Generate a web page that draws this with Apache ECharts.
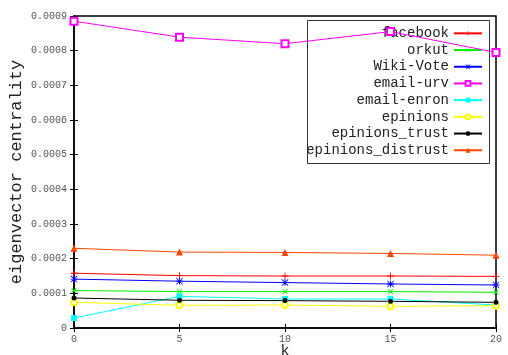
<!DOCTYPE html>
<html>
<head>
<meta charset="utf-8">
<script src="https://cdn.jsdelivr.net/npm/echarts@6/dist/echarts.min.js"></script>
<style>
  html, body { margin: 0; padding: 0; background: #fff; }
  #chart { width: 508px; height: 355px; }
</style>
</head>
<body>
<div id="chart"></div>
<script>
// k values along the x axis
const kValues = [0, 5, 10, 15, 20];

// eigenvector centrality per data set
const facebook        = [0.000158, 0.000151, 0.000150, 0.000150, 0.000149];
const orkut           = [0.000108, 0.000105, 0.000105, 0.000105, 0.000103];
const wikiVote        = [0.000141, 0.000135, 0.000131, 0.000127, 0.000124];
const emailUrv        = [0.000885, 0.000839, 0.000820, 0.000855, 0.000795];
const emailEnron      = [0.0000288, 0.0000914, 0.0000837, 0.0000837, 0.0000663];
const epinions        = [0.0000740, 0.0000655, 0.0000663, 0.0000626, 0.0000643];
const epinionsTrust   = [0.0000865, 0.0000800, 0.0000790, 0.0000770, 0.0000740];
const epinionsDistrust= [0.000230, 0.000219, 0.000218, 0.000215, 0.000210];

const seriesNames = ['facebook', 'orkut', 'Wiki-Vote', 'email-urv', 'email-enron',
                     'epinions', 'epinions_trust', 'epinions_distrust'];
const seriesData = [facebook, orkut, wikiVote, emailUrv, emailEnron,
                    epinions, epinionsTrust, epinionsDistrust];

const PLUS = 'path://M4.4,0H5.6V4.4H10V5.6H5.6V10H4.4V5.6H0V4.4H4.4Z';
const STAR = 'path://M4.4,0H5.6V4.4H10V5.6H5.6V10H4.4V5.6H0V4.4H4.4Z' +
             'M0.8,0L5,4.2L9.2,0L10,0.8L5.8,5L10,9.2L9.2,10L5,5.8L0.8,10L0,9.2L4.2,5L0,0.8Z';

const styles = [
  { color: '#ff0000', symbol: PLUS, size: 7, rotate: 0 },
  { color: '#00ee00', symbol: PLUS, size: 7, rotate: 45 },
  { color: '#0000ff', symbol: STAR, size: 7, rotate: 0 },
  { color: '#ff00ff', symbol: 'emptyRect', size: 7, rotate: 0 },
  { color: '#00ffff', symbol: 'rect', size: 6, rotate: 0 },
  { color: '#ffff00', symbol: 'emptyCircle', size: 6, rotate: 0 },
  { color: '#000000', symbol: 'circle', size: 5, rotate: 0 },
  { color: '#ff4500', symbol: 'triangle', size: 7, rotate: 0 }
];

const FONT = '"Liberation Mono", "DejaVu Sans Mono", monospace';

const chart = echarts.init(document.getElementById('chart'), null, { renderer: 'canvas' });

const series = seriesNames.map((name, i) => ({
  name: name,
  type: 'line',
  data: kValues.map((k, j) => [k, seriesData[i][j]]),
  symbol: styles[i].symbol,
  symbolSize: styles[i].size,
  symbolRotate: styles[i].rotate,
  showAllSymbol: true,
  itemStyle: { color: styles[i].color, borderWidth: 1 },
  lineStyle: { color: styles[i].color, width: 1 },
  emphasis: { disabled: true },
  animation: false,
  z: 3
}));

const tickCommon = { inside: true, length: 4, lineStyle: { color: '#000', width: 1 } };

chart.setOption({
  animation: false,
  backgroundColor: '#fff',
  grid: {
    left: 74, right: 12, top: 16, bottom: 27,
    containLabel: false,
    outerBoundsMode: 'none',
    show: true, borderColor: '#000', borderWidth: 1.5, backgroundColor: 'transparent'
  },
  xAxis: [
    {
      type: 'value', min: 0, max: 20, interval: 5,
      name: 'k', nameLocation: 'middle', nameGap: 16, nameMoveOverlap: false,
      nameTextStyle: { fontFamily: FONT, fontSize: 15, color: '#222' },
      axisLine: { show: true, lineStyle: { color: '#000', width: 1.5 } },
      axisTick: tickCommon,
      axisLabel: { fontFamily: FONT, fontSize: 10, color: '#555', margin: 6 },
      splitLine: { show: false }
    },
    {
      type: 'value', min: 0, max: 20, interval: 5, position: 'top',
      axisLine: { show: false },
      axisTick: tickCommon,
      axisLabel: { show: false },
      splitLine: { show: false }
    }
  ],
  yAxis: [
    {
      type: 'value', min: 0, max: 0.0009, interval: 0.0001,
      name: 'eigenvector centrality', nameLocation: 'middle', nameGap: 49, nameMoveOverlap: false,
      nameTextStyle: { fontFamily: FONT, fontSize: 17, color: '#222' },
      axisLine: { show: true, lineStyle: { color: '#000', width: 1.5 } },
      axisTick: tickCommon,
      axisLabel: {
        fontFamily: FONT, fontSize: 10, color: '#555', margin: 7,
        formatter: v => (v === 0 ? '0' : v.toFixed(4))
      },
      splitLine: { show: false }
    },
    {
      type: 'value', min: 0, max: 0.0009, interval: 0.0001, position: 'right',
      axisLine: { show: false },
      axisTick: tickCommon,
      axisLabel: { show: false },
      splitLine: { show: false }
    }
  ],
  legend: {
    orient: 'vertical',
    align: 'right',
    right: 25,
    top: 25,
    padding: 0,
    itemGap: 0,
    itemWidth: 28,
    itemHeight: 6,
    z: 1,
    selectedMode: false,
    data: seriesNames,
    textStyle: { fontFamily: FONT, fontSize: 14, lineHeight: 16.7, color: '#222', padding: 0 }
  },
  graphic: [
    {
      type: 'rect', z: 1, silent: true,
      shape: { x: 307.5, y: 20.5, width: 182, height: 143 },
      style: { fill: 'none', stroke: '#333', lineWidth: 1 }
    }
  ],
  series: series
});
</script>
</body>
</html>
